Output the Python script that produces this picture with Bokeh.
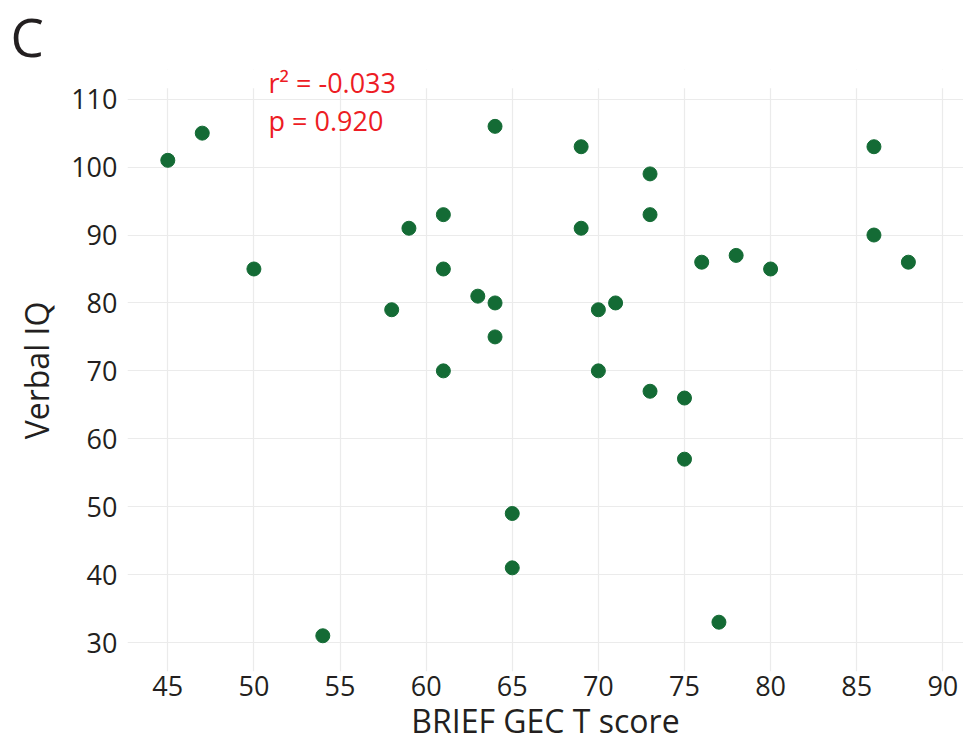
from bokeh.plotting import figure
from bokeh.models import Range1d, FixedTicker, Label, BoxAnnotation
from bokeh.embed import file_html
from bokeh.resources import INLINE

# Data
brief_gec = [45, 47, 50, 54, 58, 59, 61, 61, 61, 63, 64, 64, 64, 65, 65, 69,
             69, 70, 70, 71, 73, 73, 73, 75, 75, 76, 77, 78, 80, 86, 86, 88]
verbal_iq = [101, 105, 85, 31, 79, 91, 93, 85, 70, 81, 106, 80, 75, 49, 41, 103,
             91, 79, 70, 80, 99, 93, 67, 66, 57, 86, 33, 87, 85, 103, 90, 86]
x_ticks = [45, 50, 55, 60, 65, 70, 75, 80, 85, 90]
y_ticks = [30, 40, 50, 60, 70, 80, 90, 100, 110]
stats_lines = ["r\u00b2 = -0.033", "p = 0.920"]
panel_letter = "C"

# axis limits (the panel area ends at y_panel_top; space above holds the stats text)
x_lo, x_hi = 42.66, 91.2
y_lo, y_panel_top, y_hi = 25.74, 111.62, 114.37

FONT = "Open Sans"
TEXT_COLOR = "#231F20"
RED = "#ED1C24"
GREEN = "#146B35"
W, H = 963, 745

p = figure(width=W, height=H, output_backend="svg", toolbar_location=None,
           x_range=Range1d(x_lo, x_hi), y_range=Range1d(y_lo, y_hi),
           min_border_left=127, min_border_right=0, min_border_top=68,
           min_border_bottom=74, title=panel_letter)
p.outline_line_color = None
p.background_fill_color = "white"
p.border_fill_color = "white"

p.title.text_font = FONT
p.title.text_font_size = "53px"
p.title.text_font_style = "normal"
p.title.text_color = TEXT_COLOR
p.title.align = "left"
p.title.offset = -117
p.title.standoff = -6

p.scatter(brief_gec, verbal_iq, size=14, color=GREEN, line_color=GREEN)

for ax in (p.xaxis[0], p.yaxis[0]):
    ax.axis_line_color = None
    ax.major_tick_line_color = None
    ax.minor_tick_line_color = None
    ax.major_tick_out = 0
    ax.major_tick_in = 0
    ax.major_label_text_font = FONT
    ax.major_label_text_font_size = "27px"
    ax.major_label_text_color = TEXT_COLOR
    ax.axis_label_text_font = FONT
    ax.axis_label_text_font_size = "32px"
    ax.axis_label_text_font_style = "normal"
    ax.axis_label_text_color = TEXT_COLOR

p.xaxis.ticker = FixedTicker(ticks=x_ticks)
p.yaxis.ticker = FixedTicker(ticks=y_ticks)
p.xaxis.axis_label = "BRIEF GEC T score"
p.yaxis.axis_label = "Verbal IQ"
p.xaxis.major_label_standoff = 4
p.xaxis.axis_label_standoff = 0
p.yaxis.major_label_standoff = 10
p.yaxis.axis_label_standoff = 10

p.xgrid.grid_line_color = "#EBEBEB"
p.ygrid.grid_line_color = "#EBEBEB"
p.xgrid.grid_line_width = 1.2
p.ygrid.grid_line_width = 1.2

# the panel's grid stops at y_panel_top: blank out the strip above it
p.add_layout(BoxAnnotation(bottom=y_panel_top, fill_color="white", fill_alpha=1.0,
                           line_color=None))

p.add_layout(Label(x=50.85, y=112.45, text=stats_lines[0], text_font=FONT,
                   text_font_size="27px", text_color=RED,
                   text_baseline="alphabetic"))
p.add_layout(Label(x=50.85, y=106.87, text=stats_lines[1], text_font=FONT,
                   text_font_size="27px", text_color=RED,
                   text_baseline="alphabetic"))

open("out.html", "w").write(file_html(p, INLINE))
